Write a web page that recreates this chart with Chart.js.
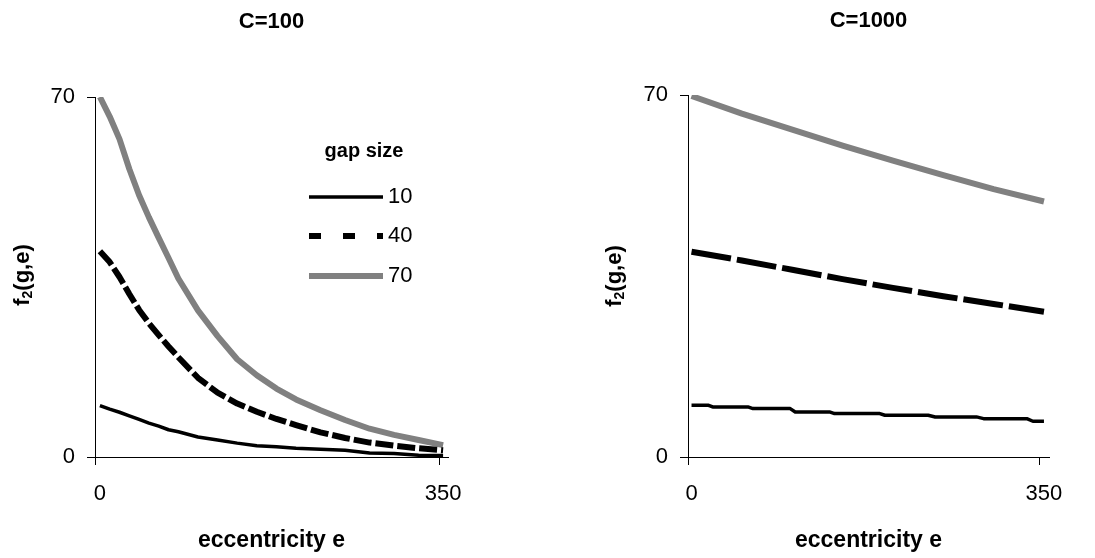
<!DOCTYPE html>
<html>
<head>
<meta charset="utf-8">
<script src="https://cdn.jsdelivr.net/npm/chart.js@4.4.1/dist/chart.umd.min.js"></script>
<style>
  html, body { margin: 0; padding: 0; background: #fff; }
  .panel { position: absolute; top: 0; }
  #left { left: 0; }
  #right { left: 548px; }
</style>
</head>
<body>
<div class="panel" id="left"><canvas id="c100" width="548" height="558"></canvas></div>
<div class="panel" id="right"><canvas id="c1000" width="547" height="558"></canvas></div>
<script>
// Datos (f2(g,e) vs excentricidad)
const GAP_LABELS = ['10', '40', '70'];
const LEGEND_TITLE = 'gap size';
const X_TICKS = [0, 350];
const Y_TICKS = [0, 70];

// C=100
const E_LEFT = [0, 10, 20, 30, 40, 50, 60, 70, 80, 100, 120, 140, 160, 180, 200, 225, 250, 275, 300, 325, 350];
const LEFT_10 = [10, 9.3, 8.7, 8.0, 7.3, 6.6, 6.0, 5.3, 4.9, 3.9, 3.3, 2.7, 2.2, 2.0, 1.7, 1.5, 1.3, 0.8, 0.7, 0.35, 0.3];
const LEFT_40 = [40, 37.9, 35.0, 31.7, 28.6, 26.0, 23.7, 21.5, 19.4, 15.4, 12.5, 10.4, 8.8, 7.4, 6.2, 4.8, 3.7, 2.8, 2.2, 1.7, 1.3];
const LEFT_70 = [70, 66.2, 61.8, 56.0, 50.9, 46.6, 42.6, 38.7, 34.7, 28.5, 23.5, 19.0, 15.9, 13.3, 11.2, 9.1, 7.2, 5.5, 4.3, 3.3, 2.3];

// C=1000
const E_RIGHT = [0, 50, 100, 150, 200, 250, 300, 350];
const RIGHT_40 = [39.7, 38.0, 36.2, 34.4, 32.7, 31.1, 29.6, 28.1];
const RIGHT_70 = [69.8, 66.4, 63.3, 60.2, 57.3, 54.5, 51.8, 49.4];
const E_RIGHT_10 = [0, 17, 21, 56, 61, 98, 103, 137, 142, 187, 192, 235, 242, 283, 290, 333, 339, 350];
const RIGHT_10 = [10.0, 10.0, 9.68, 9.68, 9.36, 9.36, 8.71, 8.71, 8.39, 8.39, 8.07, 8.07, 7.75, 7.75, 7.42, 7.42, 6.91, 6.91];

const FONT = '"Liberation Sans", Arial, sans-serif';
const GREY = '#808080';

const pts = (xs, ys) => xs.map((x, i) => ({ x: x, y: ys[i] }));

const makeDatasets = (s10, s40, s70, dash) => [
    { label: GAP_LABELS[0], data: s10, borderColor: '#000', borderWidth: 3.5 },
    { label: GAP_LABELS[1], data: s40, borderColor: '#000', borderWidth: 6, borderDash: dash, legendDash: [12, 22] },
    { label: GAP_LABELS[2], data: s70, borderColor: GREY, borderWidth: 6 }
].map(ds => Object.assign(ds, {
    pointRadius: 0, tension: 0, fill: false,
    borderCapStyle: 'butt', borderJoinStyle: 'round',
    clip: { left: 0, top: 0, right: 6, bottom: 6 }
}));

// Título, eje Y con subíndice y leyenda
const decorPlugin = {
    id: 'decor',
    afterDraw(chart, args, opts) {
        const ctx = chart.ctx;
        const area = chart.chartArea;
        ctx.save();
        ctx.fillStyle = '#000';
        ctx.font = `bold 22px ${FONT}`;
        ctx.textAlign = 'center';
        ctx.textBaseline = 'alphabetic';
        ctx.fillText(opts.title, (area.left + area.right) / 2, opts.titleY);

        ctx.translate(opts.yTitleX, opts.yTitleY);
        ctx.rotate(-Math.PI / 2);
        const big = `bold 22px ${FONT}`, small = `bold 14px ${FONT}`;
        ctx.font = big;
        const wf = ctx.measureText('f').width, wr = ctx.measureText('(g,e)').width;
        ctx.font = small;
        const w2 = ctx.measureText('2').width;
        let x = -(wf + w2 + wr) / 2;
        ctx.textAlign = 'left';
        ctx.font = big; ctx.fillText('f', x, 0); x += wf;
        ctx.font = small; ctx.fillText('2', x, 3); x += w2;
        ctx.font = big; ctx.fillText('(g,e)', x, 0);
        ctx.restore();

        if (!opts.legend) return;
        ctx.save();
        ctx.fillStyle = '#000';
        ctx.font = `bold 20px ${FONT}`;
        ctx.textAlign = 'center';
        ctx.fillText(LEGEND_TITLE, 364, 157);
        const rows = [197, 236, 276];
        chart.data.datasets.forEach((ds, i) => {
            ctx.beginPath();
            ctx.strokeStyle = ds.borderColor;
            ctx.lineWidth = ds.borderWidth;
            ctx.setLineDash(ds.legendDash || []);
            ctx.moveTo(309, rows[i]);
            ctx.lineTo(383, rows[i]);
            ctx.stroke();
            ctx.setLineDash([]);
            ctx.font = `22px ${FONT}`;
            ctx.textAlign = 'left';
            ctx.fillText(ds.label, 388, rows[i] + 6);
        });
        ctx.restore();
    }
};

const axisLine = { display: true, color: '#000', width: 1 };

const makeOptions = (cfg) => ({
    responsive: false,
    animation: false,
    layout: { padding: { left: 0, top: cfg.top, right: cfg.right, bottom: 0 } },
    plugins: {
        legend: { display: false },
        tooltip: { enabled: false },
        decor: cfg.decor
    },
    scales: {
        x: {
            type: 'linear', min: cfg.xMin, max: 355,
            // marcas de división como en Excel: en el origen y justo antes de 350
            afterBuildTicks: s => {
                s.ticks = [cfg.xMin, 0, 346, 350].map(v => ({ value: v }));
            },
            afterFit: s => { s.height = 558 - cfg.bottom; },
            grid: {
                drawOnChartArea: false, drawTicks: true, tickLength: 8, lineWidth: 1,
                tickColor: c => (X_TICKS.includes(c.tick.value) ? 'rgba(0,0,0,0)' : '#000')
            },
            border: axisLine,
            ticks: {
                font: { family: FONT, size: 22 }, color: '#000', padding: 16, maxRotation: 0, autoSkip: false,
                callback: v => (X_TICKS.includes(v) ? String(v) : '')
            },
            title: { display: true, text: 'eccentricity e', color: '#000',
                     font: { family: FONT, size: 23, weight: 'bold' }, padding: { top: 0, bottom: 4 } }
        },
        y: {
            type: 'linear', min: 0, max: 70,
            afterBuildTicks: s => { s.ticks = Y_TICKS.map(v => ({ value: v })); },
            afterFit: s => { s.width = cfg.yWidth; },
            grid: { drawOnChartArea: false, drawTicks: true, tickLength: 8, color: '#000', lineWidth: 1 },
            border: axisLine,
            ticks: { font: { family: FONT, size: 22 }, color: '#000', padding: 12 }
        }
    }
});

new Chart(document.getElementById('c100'), {
    type: 'line',
    data: { datasets: makeDatasets(pts(E_LEFT, LEFT_10), pts(E_LEFT, LEFT_40), pts(E_LEFT, LEFT_70), [18, 4]) },
    options: makeOptions({
        top: 97, right: 100, bottom: 457, yWidth: 95, xMin: -5,
        decor: { title: 'C=100', titleY: 28, yTitleX: 29, yTitleY: 275, legend: true }
    }),
    plugins: [decorPlugin]
});

new Chart(document.getElementById('c1000'), {
    type: 'line',
    data: { datasets: makeDatasets(pts(E_RIGHT_10, RIGHT_10), pts(E_RIGHT, RIGHT_40), pts(E_RIGHT, RIGHT_70), [40, 6]) },
    options: makeOptions({
        top: 95, right: 46, bottom: 457, yWidth: 140, xMin: -3.5,
        decor: { title: 'C=1000', titleY: 26.5, yTitleX: 72.5, yTitleY: 276, legend: false }
    }),
    plugins: [decorPlugin]
});
</script>
</body>
</html>
